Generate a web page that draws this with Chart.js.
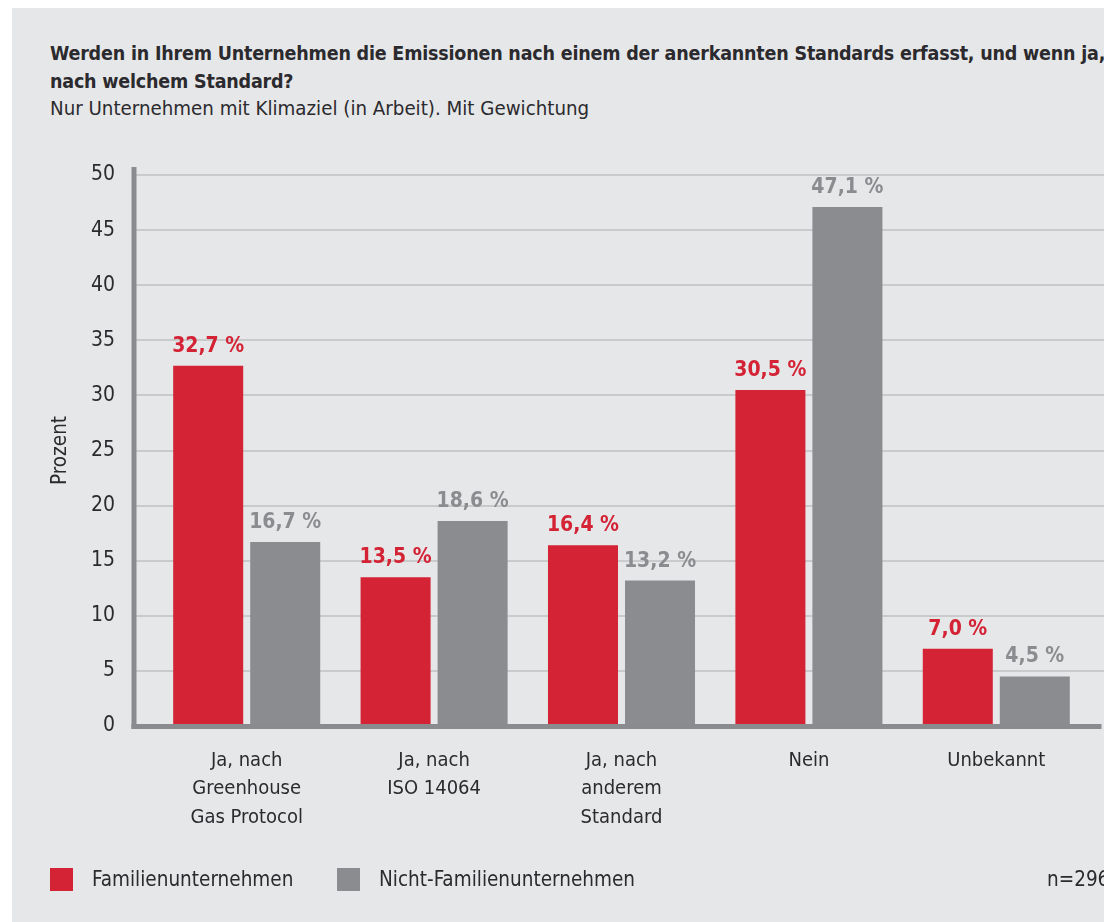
<!DOCTYPE html>
<html lang="de">
<head>
<meta charset="utf-8">
<title>Emissionserfassung nach Standard</title>
<script src="https://cdn.jsdelivr.net/npm/chart.js@4.4.1/dist/chart.umd.min.js"></script>
<style>
  html, body { margin: 0; padding: 0; background: #fff; overflow: hidden; }
  body {
    width: 1104px; height: 922px; position: relative;
    font-family: "Liberation Sans Narrow", "DejaVu Sans Condensed", "Liberation Sans", sans-serif;
    color: #2b2a2e;
  }
  .panel { position: absolute; left: 12px; top: 8px; width: 1200px; height: 1000px; background: #e6e7e8; }
  .title { position: absolute; left: 50px; top: 40px; font-size: 19.5px; line-height: 28px; letter-spacing: -0.2px; font-weight: bold; white-space: nowrap; }
  .subtitle { position: absolute; left: 50px; top: 94px; font-size: 20.3px; line-height: 28px; white-space: nowrap; }
  #chart { position: absolute; left: 0; top: 0; }
  .legend-item { position: absolute; top: 865px; height: 28px; display: flex; align-items: center; font-size: 20.5px; white-space: nowrap; }
  .legend-item .box { width: 23px; height: 23px; margin-right: 19px; }
  .note { position: absolute; left: 1047px; top: 865px; font-size: 20.5px; line-height: 28px; white-space: nowrap; }
</style>
</head>
<body>
<div class="panel"></div>
<div class="title">Werden in Ihrem Unternehmen die Emissionen nach einem der anerkannten Standards erfasst, und wenn ja,<br>nach welchem Standard?</div>
<div class="subtitle">Nur Unternehmen mit Klimaziel (in Arbeit). Mit Gewichtung</div>
<canvas id="chart" width="1104" height="922"></canvas>
<div id="legend"></div>
<div class="note">n=296</div>

<script>
// Data
const categories = [
    ['Ja, nach', 'Greenhouse', 'Gas Protocol'],
    ['Ja, nach', 'ISO 14064'],
    ['Ja, nach', 'anderem', 'Standard'],
    'Nein',
    'Unbekannt'
];
const seriesNames = ['Familienunternehmen', 'Nicht-Familienunternehmen'];
const familyValues = [32.7, 13.5, 16.4, 30.5, 7.0];
const nonFamilyValues = [16.7, 18.6, 13.2, 47.1, 4.5];
const yTicks = [0, 5, 10, 15, 20, 25, 30, 35, 40, 45, 50];
const yTitle = 'Prozent';

const RED = '#d32335';
const GREY = '#8b8c8f';
const FONT = '"Liberation Sans Narrow", "DejaVu Sans Condensed", "Liberation Sans", sans-serif';
const AXIS_GAP = 19; // distance between y axis line and first category slot

function formatValue(v) {
    return v.toFixed(1).replace('.', ',') + ' %';
}

// Grid lines, axis lines and value labels
const framePlugin = {
    id: 'frame',
    beforeDatasetsDraw(chart) {
        const { ctx, chartArea, scales: { y } } = chart;
        const axisX = chartArea.left - AXIS_GAP;
        ctx.save();
        ctx.strokeStyle = '#c9cacc';
        ctx.lineWidth = 2;
        y.ticks.forEach(t => {
            if (t.value === yTicks[0]) return;
            const py = Math.round(y.getPixelForValue(t.value));
            ctx.beginPath();
            ctx.moveTo(axisX, py);
            ctx.lineTo(chart.width, py);
            ctx.stroke();
        });
        ctx.restore();
    },
    afterDatasetsDraw(chart) {
        const { ctx, chartArea, scales: { y } } = chart;
        const axisX = chartArea.left - AXIS_GAP;
        const base = y.getPixelForValue(yTicks[0]);
        const top = y.getPixelForValue(yTicks[yTicks.length - 1]);
        ctx.save();
        ctx.fillStyle = '#8a8b8e';
        ctx.fillRect(axisX - 2.5, top - 8, 5, base - top + 11);
        ctx.fillRect(axisX - 2.5, base - 2, chart.width - axisX, 5);

        // value labels above bars
        ctx.font = 'bold 21px ' + FONT;
        ctx.textAlign = 'center';
        ctx.textBaseline = 'alphabetic';
        chart.data.datasets.forEach((ds, di) => {
            const meta = chart.getDatasetMeta(di);
            ctx.fillStyle = ds.backgroundColor;
            meta.data.forEach((bar, i) => {
                ctx.fillText(formatValue(ds.data[i]), bar.x, bar.y - 14);
            });
        });
        ctx.restore();
    }
};

const ctx = document.getElementById('chart').getContext('2d');
const chart = new Chart(ctx, {
    type: 'bar',
    data: {
        labels: categories,
        datasets: [
            { label: seriesNames[0], data: familyValues, backgroundColor: RED },
            { label: seriesNames[1], data: nonFamilyValues, backgroundColor: GREY }
        ]
    },
    options: {
        responsive: false,
        animation: false,
        devicePixelRatio: 1,
        layout: { padding: { top: 175, right: 14, bottom: 0, left: 0 } },
        categoryPercentage: 0.822,
        barPercentage: 0.909,
        plugins: {
            legend: { display: false },
            tooltip: { enabled: false }
        },
        scales: {
            x: {
                grid: { display: false, drawTicks: false },
                border: { display: false },
                ticks: {
                    color: '#2b2a2e',
                    padding: 20,
                    maxRotation: 0,
                    autoSkip: false,
                    font: { family: FONT, size: 20, lineHeight: 1.43 }
                },
                afterFit(scale) { scale.height = 196; }
            },
            y: {
                min: yTicks[0],
                max: yTicks[yTicks.length - 1],
                grid: { display: false, drawTicks: false },
                border: { display: false },
                ticks: {
                    stepSize: yTicks[1] - yTicks[0],
                    color: '#2b2a2e',
                    padding: 38,
                    font: { family: FONT, size: 21 }
                },
                title: {
                    display: true,
                    text: yTitle,
                    color: '#2b2a2e',
                    padding: { top: 48, bottom: 0 },
                    font: { family: FONT, size: 20.5 }
                },
                afterFit(scale) { scale.width = 153; }
            }
        }
    },
    plugins: [framePlugin]
});

// HTML legend built from the datasets
const legendEl = document.getElementById('legend');
const legendLeft = [50, 337];
chart.data.datasets.forEach((ds, i) => {
    const item = document.createElement('div');
    item.className = 'legend-item';
    item.style.left = legendLeft[i] + 'px';
    const box = document.createElement('span');
    box.className = 'box';
    box.style.background = ds.backgroundColor;
    item.appendChild(box);
    item.appendChild(document.createTextNode(ds.label));
    legendEl.appendChild(item);
});
</script>
</body>
</html>
